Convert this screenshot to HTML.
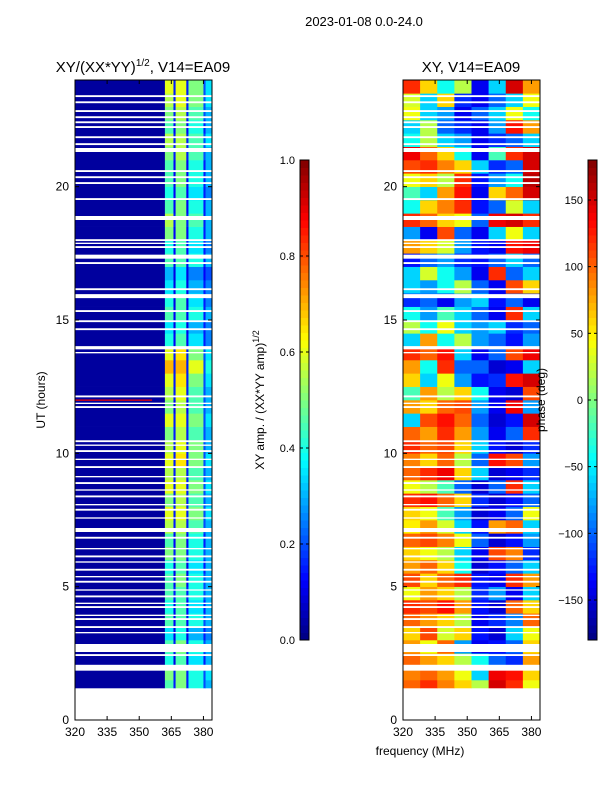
<!DOCTYPE html>
<html><head><meta charset="utf-8">
<style>
body{margin:0;background:#fff;font-family:"Liberation Sans",sans-serif;}
svg text{font-family:"Liberation Sans",sans-serif;fill:#000;}
</style></head>
<body>
<svg id="fig" width="600" height="800" viewBox="0 0 600 800" xmlns="http://www.w3.org/2000/svg">
<rect x="0" y="0" width="600" height="800" fill="#fff"/>
<text x="364" y="26" font-size="13" text-anchor="middle">2023-01-08 0.0-24.0</text>
<text x="143" y="72" font-size="15" text-anchor="middle">XY/(XX*YY)<tspan font-size="10" dy="-6">1/2</tspan><tspan dy="6">, V14=EA09</tspan></text>
<text x="471" y="72" font-size="15" text-anchor="middle">XY, V14=EA09</text>
<text x="420" y="755" font-size="12" text-anchor="middle">frequency (MHz)</text>
<text transform="translate(45,400) rotate(-90)" font-size="12" text-anchor="middle">UT (hours)</text>
<g id="left"></g>
<g id="right"></g>
<g id="axes"></g>
<g id="cbars"></g>
</svg>
<script>
const timeStart = 1.0, timeStep = 0.5;
const ampFreqEdges = [320,362,366,367,372,373,380,381,384];
const ampRows = [
[0.03,0.45,0.15,0.5,0.15,0.4,0.2,0.3],
[0.03,0.5,0.15,0.5,0.15,0.4,0.2,0.35],
[0.03,0.4,0.1,0.45,0.1,0.35,0.15,0.3],
[0.03,0.45,0.15,0.5,0.15,0.4,0.2,0.3],
[0.03,0.35,0.1,0.4,0.1,0.3,0.15,0.25],
[0.03,0.45,0.12,0.45,0.12,0.4,0.2,0.3],
[0.03,0.4,0.12,0.45,0.12,0.35,0.15,0.3],
[0.03,0.45,0.15,0.45,0.15,0.4,0.2,0.3],
[0.03,0.45,0.12,0.5,0.12,0.4,0.2,0.3],
[0.03,0.4,0.1,0.45,0.1,0.35,0.15,0.3],
[0.03,0.5,0.15,0.5,0.15,0.4,0.2,0.3],
[0.03,0.45,0.12,0.5,0.12,0.4,0.15,0.3],
[0.03,0.55,0.15,0.55,0.15,0.45,0.2,0.3],
[0.03,0.6,0.15,0.6,0.15,0.5,0.2,0.35],
[0.03,0.5,0.15,0.55,0.15,0.45,0.2,0.3],
[0.03,0.6,0.15,0.6,0.15,0.5,0.2,0.35],
[0.03,0.55,0.15,0.55,0.15,0.45,0.2,0.3],
[0.03,0.6,0.15,0.65,0.15,0.5,0.2,0.35],
[0.03,0.55,0.15,0.6,0.15,0.5,0.2,0.3],
[0.03,0.5,0.15,0.55,0.15,0.45,0.2,0.3],
[0.03,0.6,0.15,0.6,0.15,0.5,0.2,0.35],
[0.03,0.5,0.12,0.55,0.12,0.45,0.2,0.3],
[0.03,0.55,0.15,0.6,0.15,0.45,0.2,0.3],
[0.03,0.6,0.15,0.65,0.15,0.5,0.2,0.35],
[0.03,0.7,0.15,0.7,0.15,0.6,0.2,0.4],
[0.03,0.6,0.15,0.65,0.15,0.5,0.2,0.35],
[0.03,0.4,0.12,0.45,0.12,0.35,0.15,0.25],
[0.03,0.35,0.1,0.4,0.1,0.3,0.15,0.25],
[0.03,0.45,0.12,0.45,0.12,0.4,0.15,0.3],
[0.03,0.4,0.1,0.45,0.1,0.35,0.15,0.25],
[0.03,0.35,0.1,0.4,0.1,0.3,0.15,0.25],
[0.03,0.3,0.1,0.35,0.1,0.25,0.12,0.2],
[0.03,0.45,0.12,0.45,0.12,0.4,0.15,0.3],
[0.03,0.4,0.12,0.45,0.12,0.35,0.15,0.25],
[0.03,0.5,0.12,0.5,0.12,0.4,0.15,0.3],
[0.03,0.55,0.15,0.5,0.15,0.45,0.15,0.3],
[0.03,0.45,0.12,0.5,0.12,0.4,0.15,0.3],
[0.03,0.4,0.12,0.45,0.12,0.35,0.15,0.25],
[0.03,0.45,0.12,0.5,0.12,0.4,0.15,0.3],
[0.03,0.45,0.12,0.5,0.12,0.4,0.15,0.3],
[0.03,0.5,0.15,0.55,0.15,0.45,0.2,0.3],
[0.03,0.55,0.15,0.55,0.15,0.45,0.2,0.35],
[0.03,0.45,0.12,0.5,0.12,0.4,0.15,0.3],
[0.03,0.5,0.15,0.55,0.15,0.45,0.2,0.3],
[0.03,0.55,0.15,0.6,0.15,0.5,0.2,0.35],
[0.03,0.6,0.15,0.6,0.15,0.5,0.2,0.35]
];
const ampLineHours = [11.97];
const ampLineValues = [0.9];
const ampLineFreqEnd = [356];
const phaseFreqEdges = [320,328,336,344,352,360,368,376,384];
const phaseRows = [
[100,120,90,60,20,150,120,40],[90,100,80,40,-60,140,130,60],[100,80,60,20,-40,-100,-120,80],
[80,40,100,-80,-140,-130,-100,60],[60,110,30,60,-130,-150,-60,40],[100,80,60,20,-140,-120,-90,100],
[120,110,130,80,-130,-150,100,60],[40,80,60,20,-120,-80,-140,-60],[110,60,100,120,-130,-140,120,80],
[80,100,60,-40,-150,-130,-100,-60],[60,40,20,-60,-140,110,90,-120],[100,110,90,40,-100,-150,-130,-80],
[50,80,30,-60,-130,80,100,-60],[60,40,-20,-80,-150,-140,-100,40],[120,130,100,60,-120,-150,-130,-100],
[40,20,-20,-100,-150,-100,120,-60],[100,120,140,60,-60,-150,-140,-120],[90,60,100,20,-100,130,110,-80],
[120,100,110,60,-60,-130,-150,-120],[100,80,120,80,-80,-140,-100,120],[-60,110,130,100,-100,-150,-130,150],
[80,60,100,110,-80,-140,140,-80],[-20,80,20,60,-40,-140,-150,110],[60,-60,40,-80,-130,-120,130,150],
[80,-40,120,-100,-100,-150,-140,-60],[120,100,130,-60,-140,-100,110,140],[-60,80,-40,20,-80,-100,-130,-80],
[20,-40,40,-60,-80,-60,-120,-100],[-40,-80,-20,-60,-100,-140,120,-60],[-120,-100,-140,-80,-60,-130,-100,-140],
[-60,-80,-40,20,-100,-140,110,60],[-60,30,-40,-80,-140,120,-100,-60],[-130,-100,-80,-120,-130,-100,-60,-100],
[80,60,30,-80,-130,-140,130,140],[-80,-140,110,-100,-140,-60,40,-60],[120,100,60,40,-100,140,150,120],
[-40,60,90,120,-130,-100,30,-60],[-20,-60,80,130,-140,60,100,150],[40,60,20,120,-130,-80,-40,160],
[110,120,90,60,-60,-120,-100,150],[140,100,60,-40,-140,-20,120,150],[-40,20,-60,-80,-140,-120,-100,-60],
[-60,20,-100,-120,-140,-80,130,80],[40,-60,-80,-140,-100,-60,40,-40],[30,-60,60,-120,-140,-100,-60,40],
[120,60,-40,20,-140,-60,150,80]
];
const dataStartHour = 1.2;
const gapStarts = [23.36,23.13,22.8,22.57,22.38,22.2,21.82,21.56,21.3,20.55,20.32,20.1,19.5,18.75,17.96,17.85,17.7,17.3,17.1,16.12,15.82,15.3,14.92,14.62,13.9,13.75,12.1,11.85,11.7,10.42,10.28,10.05,9.75,9.45,9.1,8.85,8.6,8.35,8.05,7.85,7.55,7.05,6.8,6.4,6.1,5.9,5.6,5.35,5.15,4.85,4.6,4.35,4.2,3.9,3.75,3.45,3.25,2.55,2.4,1.85];
const gapLengths = [0.07,0.07,0.07,0.07,0.07,0.07,0.07,0.07,0.15,0.07,0.07,0.07,0.07,0.15,0.07,0.05,0.07,0.15,0.07,0.07,0.15,0.07,0.07,0.07,0.12,0.05,0.07,0.05,0.07,0.07,0.05,0.07,0.05,0.07,0.05,0.07,0.05,0.07,0.05,0.07,0.05,0.15,0.07,0.05,0.07,0.05,0.07,0.05,0.07,0.05,0.07,0.05,0.07,0.05,0.07,0.07,0.05,0.3,0.07,0.22];
const yTicks = [0,5,10,15,20];
const xTicks = [320,335,350,365,380];
const ampCbTicks = [0.0,0.2,0.4,0.6,0.8,1.0];
const phaseCbTicks = [-150,-100,-50,0,50,100,150];

const NS="http://www.w3.org/2000/svg";
const panels = {left:{x0:75,x1:212}, right:{x0:403,x1:540}};
const yTop=80, yBot=720;
const yS = h => yBot - (h/24)*(yBot-yTop);
const xS = (p,f) => p.x0 + (f-320)/(384-320)*(p.x1-p.x0);
function jet(v){v=Math.max(0,Math.min(1,v));
 const r=Math.max(0,Math.min(1,1.5-Math.abs(4*v-3)));
 const g=Math.max(0,Math.min(1,1.5-Math.abs(4*v-2)));
 const b=Math.max(0,Math.min(1,1.5-Math.abs(4*v-1)));
 return `rgb(${Math.round(r*255)},${Math.round(g*255)},${Math.round(b*255)})`;}
function mk(tag,attrs,parent){const e=document.createElementNS(NS,tag);for(const k in attrs)e.setAttribute(k,attrs[k]);parent.appendChild(e);return e;}

function drawHeat(gid,p,edges,rows,norm,cellName,extra){
 const g=document.getElementById(gid);
 rows.forEach((row,i)=>{
  const t0=Math.max(timeStart+i*timeStep,dataStartHour), t1=timeStart+(i+1)*timeStep;
  row.forEach((v,j)=>{
   const x=xS(p,edges[j]), w=xS(p,edges[j+1])-x;
   const r=mk('rect',{x:x,y:yS(t1),width:w+0.3,height:yS(t0)-yS(t1)+0.3,fill:jet(norm(v))},g);
   
   
  });
 });
 if(extra) extra(g);
 gapStarts.forEach((s,k)=>{
  const r=mk('rect',{x:p.x0,y:yS(s+gapLengths[k]),width:p.x1-p.x0,height:yS(s)-yS(s+gapLengths[k]),fill:'#fff'},g);
  
  
 });
}
drawHeat('left',panels.left,ampFreqEdges,ampRows,v=>v,'amp-cell',g=>{
 ampLineHours.forEach((h,k)=>{
  const r=mk('rect',{x:panels.left.x0,y:yS(h+0.05),width:xS(panels.left,ampLineFreqEnd[k])-panels.left.x0,height:yS(h)-yS(h+0.05),fill:jet(ampLineValues[k])},g);
  
  
 });
});
drawHeat('right',panels.right,phaseFreqEdges,phaseRows,v=>(v+180)/360,'phase-cell');

const ax=document.getElementById('axes');
for(const key in panels){const p=panels[key];
 const fr=mk('rect',{x:p.x0,y:yTop,width:p.x1-p.x0,height:yBot-yTop,fill:'none',stroke:'#000','stroke-width':1},ax);
 
 
 yTicks.forEach(t=>{const y=yS(t);
  mk('line',{x1:p.x0,x2:p.x0+4,y1:y,y2:y,stroke:'#000'},ax);
  mk('line',{x1:p.x1,x2:p.x1-4,y1:y,y2:y,stroke:'#000'},ax);
  const tx=mk('text',{x:p.x0-6,y:y+4,'font-size':12,'text-anchor':'end'},ax);tx.textContent=t;
  
  
 });
 xTicks.forEach(t=>{const x=xS(p,t);
  mk('line',{x1:x,x2:x,y1:yBot,y2:yBot-4,stroke:'#000'},ax);
  mk('line',{x1:x,x2:x,y1:yTop,y2:yTop+4,stroke:'#000'},ax);
  const tx=mk('text',{x:x,y:yBot+16,'font-size':12,'text-anchor':'middle'},ax);tx.textContent=t;
  
  
 });
}
const cb=document.getElementById('cbars');
function cbar(x,vmin,vmax,ticks,name,label,lx){
 const y0=160,y1=640,w=9,n=64;
 for(let i=0;i<n;i++){mk('rect',{x:x,y:y1-(i+1)*(y1-y0)/n,width:w,height:(y1-y0)/n+0.5,fill:jet((i+0.5)/n)},cb);}
 const fr=mk('rect',{x:x,y:y0,width:w,height:y1-y0,fill:'none',stroke:'#000'},cb);
 
 
 ticks.forEach(t=>{const y=y1-(t-vmin)/(vmax-vmin)*(y1-y0);
  mk('line',{x1:x,x2:x+3,y1:y,y2:y,stroke:'#000'},cb);
  mk('line',{x1:x+w,x2:x+w-3,y1:y,y2:y,stroke:'#000'},cb);
  const tx=mk('text',{x:x-5,y:y+4,'font-size':11,'text-anchor':'end'},cb);
  tx.textContent=(vmax<=1? t.toFixed(1) : (t<0?'\u2212'+Math.abs(t):t));
  
  
 });
 const lb=mk('text',{transform:`translate(${lx},400) rotate(-90)`,'font-size':12,'text-anchor':'middle'},cb);
 lb.innerHTML=label;
 
 
}
cbar(300,0,1,ampCbTicks,'amplitude-colorbar','XY amp. / (XX*YY amp)<tspan font-size="9" dy="-5">1/2</tspan>',264);
cbar(588,-180,180,phaseCbTicks,'phase-colorbar','phase (deg)',545);
</script>
</body></html>
